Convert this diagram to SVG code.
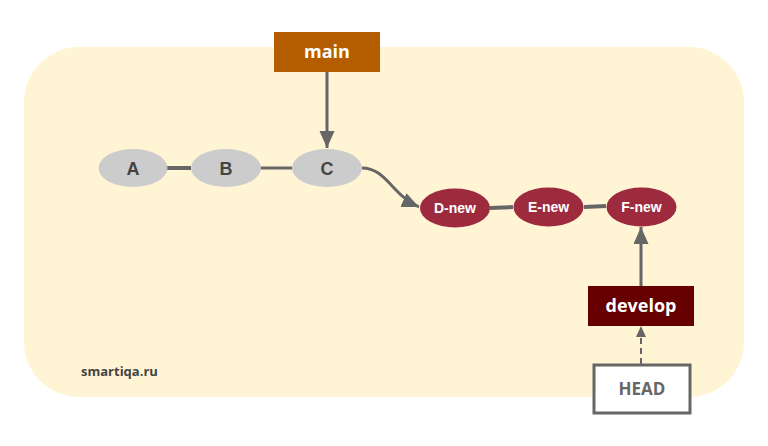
<svg xmlns="http://www.w3.org/2000/svg" width="768" height="446" viewBox="0 0 768 446">
<style>
.commit-old{fill:#cccccc}
.commit-new{fill:#9e2a3e}
.t-old{font-family:"Liberation Sans",Arial,sans-serif;font-weight:bold;font-size:18px;fill:#444444;text-anchor:middle}
.t-new{font-family:"Liberation Sans",Arial,sans-serif;font-weight:bold;font-size:14px;fill:#ffffff;text-anchor:middle}
.t-label{font-family:"Open Sans","Noto Sans",sans-serif;font-weight:bold;font-size:18px;fill:#ffffff;text-anchor:middle}
.edge{stroke:#666666;fill:none}
</style>
<defs>
<marker id="arrow" markerUnits="userSpaceOnUse" markerWidth="18" markerHeight="16" refX="17" refY="7.5" orient="auto">
<path d="M0,0 L17,7.5 L0,15 z" fill="#666666"/>
</marker>
<marker id="arrow-small" markerUnits="userSpaceOnUse" markerWidth="12" markerHeight="12" refX="11" refY="5" orient="auto">
<path d="M0,0 L11,5 L0,10 z" fill="#666666"/>
</marker>
</defs>
<rect x="24" y="47" width="720" height="350" rx="55" ry="55" fill="#fff4d4"/>
<text x="81" y="376" font-family="Open Sans,'Noto Sans',sans-serif" font-weight="bold" font-size="13" fill="#444444">smartiqa.ru</text>
<g id="connectors">
<line class="edge" x1="166" y1="168" x2="191" y2="168" stroke-width="4"/>
<line class="edge" x1="260" y1="168" x2="292" y2="168" stroke-width="3"/>
<path class="edge" d="M362,168 C386,168 392,195 419,207" stroke-width="3" marker-end="url(#arrow)"/>
<line class="edge" x1="490" y1="208" x2="513" y2="207" stroke-width="4"/>
<line class="edge" x1="584" y1="207" x2="606" y2="206" stroke-width="4"/>
<line class="edge" x1="327" y1="72" x2="327" y2="148" stroke-width="3" marker-end="url(#arrow)"/>
<line class="edge" x1="641" y1="287" x2="641" y2="227" stroke-width="3" marker-end="url(#arrow)"/>
<line class="edge" x1="641" y1="364" x2="641" y2="326" stroke-width="2" stroke-dasharray="6,4" marker-end="url(#arrow-small)"/>
</g>
<g id="A"><ellipse class="commit-old" cx="133" cy="168" rx="34.5" ry="19"/><text class="t-old" x="133" y="174.5">A</text></g>
<g id="B"><ellipse class="commit-old" cx="226" cy="168" rx="35" ry="19"/><text class="t-old" x="226" y="174.5">B</text></g>
<g id="C"><ellipse class="commit-old" cx="327" cy="168" rx="35" ry="19"/><text class="t-old" x="327" y="174.5">C</text></g>
<g id="D-new"><ellipse class="commit-new" cx="455" cy="208" rx="35" ry="19.5"/><text class="t-new" x="455" y="213">D-new</text></g>
<g id="E-new"><ellipse class="commit-new" cx="548.5" cy="207" rx="35" ry="19.5"/><text class="t-new" x="548.5" y="212">E-new</text></g>
<g id="F-new"><ellipse class="commit-new" cx="641.5" cy="207" rx="35" ry="19.5"/><text class="t-new" x="641.5" y="212">F-new</text></g>
<g id="main"><rect x="274" y="32" width="106" height="40" fill="#b35c00"/><text class="t-label" x="327" y="58">main</text></g>
<g id="develop"><rect x="588" y="286" width="106" height="40" fill="#660000"/><text class="t-label" x="641" y="312">develop</text></g>
<g id="HEAD"><rect x="594" y="365" width="96" height="48" fill="#ffffff" stroke="#666666" stroke-width="3"/><text x="642" y="395" font-family="Open Sans,'Noto Sans',sans-serif" font-weight="bold" font-size="17" fill="#666666" text-anchor="middle">HEAD</text></g>
</svg>
